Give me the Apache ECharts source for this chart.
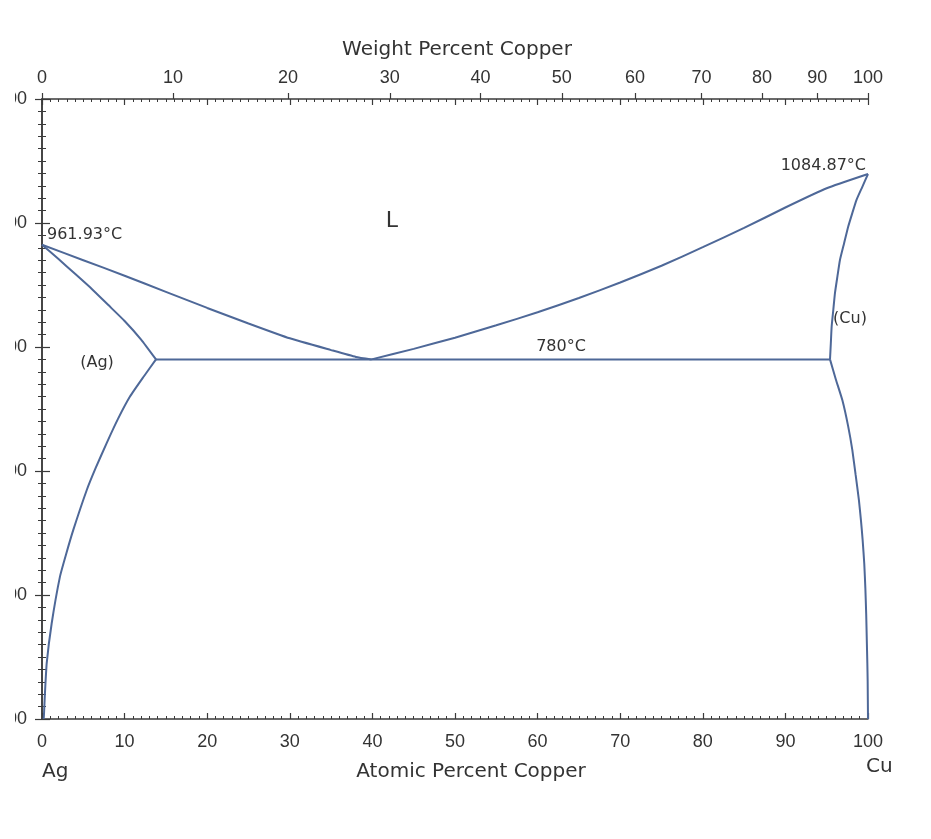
<!DOCTYPE html>
<html>
<head>
<meta charset="utf-8">
<script src="https://cdn.jsdelivr.net/npm/echarts@6/dist/echarts.min.js"></script>
<style>html,body{margin:0;padding:0;background:#fff;}#c{width:931px;height:839px;}</style>
</head>
<body>
<div id="c"></div>
<script>
// Atomic percent Cu (x) vs temperature in °C (y)
const liquidusAg = [[0,965],[5,940],[10,915],[15,889],[20,863],[25,838],[30,814],[35,795],[38,784],[39.9,780]];
const liquidusCu = [[39.9,780],[45,797],[50,815],[55,835],[60,856],[65,879],[70,904],[75,931],[80,961],[85,992],[90,1025],[95,1056],[100,1079]];
const solidusAg = [[0,965],[2,942],[4,918],[6,894],[8,868],[10,842],[12,812],[13.8,780]];
const solvusAg = [[13.8,780],[12.3,752],[10.65,720],[9.2,684],[7.83,645],[6.5,605],[5.41,569],[3.79,505],[2.9,465],[2.18,430],[1.17,354],[0.57,290],[0.35,240],[0.25,210],[0.2,200]];
const eutectic = [[13.8,780],[95.4,780]];
const solidusCu = [[95.4,780],[95.5,806],[95.6,833],[95.8,860],[96.0,887],[96.3,914],[96.6,940],[97.1,967],[97.6,994],[98.1,1016],[98.6,1037],[99.3,1058],[100,1079]];
const solvusCu = [[95.4,780],[96.1,748],[96.9,714],[97.6,672],[98.1,634],[98.5,594],[98.9,553],[99.15,520],[99.35,489],[99.55,450],[99.68,411],[99.78,370],[99.85,330],[99.92,290],[99.96,260],[100,200]];

const weightTicks = [0,10,20,30,40,50,60,70,80,90,100];
const tempTicks = [200,400,600,800,1000,1200];

// axis transform: weight % Cu -> atomic % Cu
const M_CU = 63.546, M_AG = 107.868;
function wtToAt(w){ if (w<=0) return 0; if (w>=100) return 100; const a=w/M_CU, b=(100-w)/M_AG; return 100*a/(a+b); }
const weightPos = weightTicks.map(wtToAt);

const LINE = '#4e6898';
const AX = '#3a3a3a';
const FONT = 'Liberation Sans';
const TXT = '#333';

function mk(data){
  return {type:'line', data, xAxisIndex:0, yAxisIndex:0, showSymbol:false, symbol:'none', smooth:0.15,
    lineStyle:{color:LINE, width:2}, silent:true, z:5};
}

const chart = echarts.init(document.getElementById('c'), null, {renderer:'canvas'});
const option = {
  backgroundColor:'#fff',
  animation:false,
  grid:{left:42, right:63, top:99, bottom:120, containLabel:false, outerBoundsMode:'none'},
  xAxis:[
    {type:'value', position:'bottom', min:0, max:100, interval:10,
      axisLine:{lineStyle:{color:AX, width:1.5}},
      axisTick:{inside:true, length:6, lineStyle:{color:AX, width:1.2}},
      minorTick:{show:true, splitNumber:10, length:3, lineStyle:{color:AX, width:1}},
      splitLine:{show:false},
      axisLabel:{margin:14, fontFamily:FONT, fontSize:18, color:TXT}},
    {type:'value', position:'top', min:0, max:100, interval:10,
      axisLine:{lineStyle:{color:AX, width:1.5}},
      axisTick:{inside:true, length:6, lineStyle:{color:AX, width:1.2}},
      minorTick:{show:true, splitNumber:10, length:3, lineStyle:{color:AX, width:1}},
      splitLine:{show:false},
      axisLabel:{show:false}},
    {type:'value', position:'top', min:0, max:100,
      axisLine:{show:false},
      axisTick:{show:true, inside:false, length:6, customValues:weightPos, lineStyle:{color:AX, width:1.2}},
      splitLine:{show:false},
      axisLabel:{show:true, margin:12, customValues:weightPos, fontFamily:FONT, fontSize:18, color:TXT,
        formatter:function(v){ let best=0, d=1e9; weightPos.forEach((p,i)=>{ if(Math.abs(p-v)<d){d=Math.abs(p-v); best=i;} }); return String(weightTicks[best]); }}}
  ],
  yAxis:[
    {type:'value', position:'left', min:tempTicks[0], max:tempTicks[tempTicks.length-1], interval:200,
      axisLine:{lineStyle:{color:AX, width:1.5}},
      axisTick:{inside:false, length:7, lineStyle:{color:AX, width:1.2}},
      minorTick:{show:true, splitNumber:10, length:4, lineStyle:{color:AX, width:1}},
      splitLine:{show:false},
      axisLabel:{margin:15, fontFamily:FONT, fontSize:18, color:TXT, formatter:function(v){return String(v);}}},
    {type:'value', position:'right', min:tempTicks[0], max:tempTicks[tempTicks.length-1], interval:200,
      axisLine:{lineStyle:{color:AX, width:1.5}},
      axisTick:{inside:false, length:8, lineStyle:{color:AX, width:1.2}},
      minorTick:{show:true, splitNumber:10, length:4, lineStyle:{color:AX, width:1}},
      splitLine:{show:false},
      axisLabel:{show:false}}
  ],
  series:[mk(liquidusAg), mk(liquidusCu), mk(solidusAg), mk(solvusAg), mk(eutectic), mk(solidusCu), mk(solvusCu)],
  graphic:[
    {type:'rect', left:0, top:60, shape:{width:15, height:700}, style:{fill:'#fff'}, z:100},
    {type:'text', style:{text:'Weight Percent Copper', x:457, y:50, fill:TXT, font:'20px "DejaVu Sans"', textAlign:'center', textVerticalAlign:'middle'}},
    {type:'text', style:{text:'Atomic Percent Copper', x:471, y:772, fill:TXT, font:'20px "DejaVu Sans"', textAlign:'center', textVerticalAlign:'middle'}},
    {type:'text', style:{text:'Ag', x:42, y:772, fill:TXT, font:'20px "DejaVu Sans"', textAlign:'left', textVerticalAlign:'middle'}},
    {type:'text', style:{text:'Cu', x:866, y:767, fill:TXT, font:'20px "DejaVu Sans"', textAlign:'left', textVerticalAlign:'middle'}},
    {type:'text', style:{text:'L', x:392, y:221, fill:TXT, font:'22px "DejaVu Sans"', textAlign:'center', textVerticalAlign:'middle'}},
    {type:'text', style:{text:'961.93°C', x:47, y:235, fill:TXT, font:'16px "DejaVu Sans"', textAlign:'left', textVerticalAlign:'middle'}},
    {type:'text', style:{text:'1084.87°C', x:866, y:166, fill:TXT, font:'16px "DejaVu Sans"', textAlign:'right', textVerticalAlign:'middle'}},
    {type:'text', style:{text:'(Ag)', x:97, y:363, fill:TXT, font:'16px "DejaVu Sans"', textAlign:'center', textVerticalAlign:'middle'}},
    {type:'text', style:{text:'780°C', x:561, y:347, fill:TXT, font:'16px "DejaVu Sans"', textAlign:'center', textVerticalAlign:'middle'}},
    {type:'text', style:{text:'(Cu)', x:850, y:319, fill:TXT, font:'16px "DejaVu Sans"', textAlign:'center', textVerticalAlign:'middle'}}
  ]
};
chart.setOption(option);
</script>
</body>
</html>
